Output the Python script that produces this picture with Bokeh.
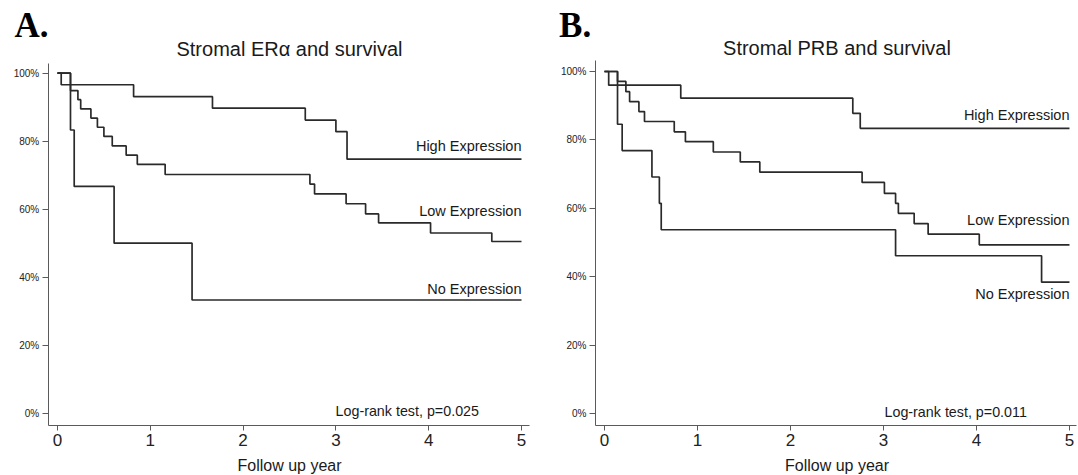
from bokeh.plotting import figure
from bokeh.layouts import row
from bokeh.models import Label, FixedTicker, NumeralTickFormatter, Range1d, LinearAxis
from bokeh.embed import file_html
from bokeh.resources import INLINE

# ---------------- data ----------------
series_names = ["High Expression", "Low Expression", "No Expression"]
x_ticks = [0, 1, 2, 3, 4, 5]
y_ticks = [0, 0.2, 0.4, 0.6, 0.8, 1.0]

# Panel A: Stromal ERa
a_high_t = [0, 0.04, 0.82, 1.67, 2.67, 3.00, 3.12, 5.0]
a_high_s = [1.0, 0.966, 0.931, 0.897, 0.862, 0.828, 0.747, 0.747]
a_low_t = [0, 0.14, 0.22, 0.25, 0.36, 0.43, 0.50, 0.59, 0.74, 0.86, 1.16,
           2.72, 2.77, 3.11, 3.32, 3.46, 4.02, 4.68, 5.0]
a_low_s = [1.0, 0.949, 0.922, 0.895, 0.868, 0.841, 0.814, 0.786, 0.759, 0.732, 0.702,
           0.674, 0.645, 0.616, 0.586, 0.560, 0.530, 0.505, 0.505]
a_no_t = [0, 0.14, 0.18, 0.61, 1.45, 5.0]
a_no_s = [1.0, 0.833, 0.667, 0.5, 0.333, 0.333]

# Panel B: Stromal PRB
b_high_t = [0, 0.045, 0.82, 2.67, 2.75, 5.0]
b_high_s = [1.0, 0.96, 0.922, 0.878, 0.834, 0.834]
b_low_t = [0, 0.14, 0.23, 0.27, 0.37, 0.43, 0.75, 0.87, 1.17, 1.46, 1.67,
           2.77, 3.01, 3.13, 3.16, 3.33, 3.48, 4.03, 5.0]
b_low_s = [1.0, 0.971, 0.941, 0.912, 0.883, 0.854, 0.824, 0.795, 0.765, 0.736, 0.706,
           0.676, 0.644, 0.615, 0.586, 0.556, 0.525, 0.494, 0.494]
b_no_t = [0, 0.14, 0.19, 0.51, 0.59, 0.61, 3.13, 4.70, 5.0]
b_no_s = [1.0, 0.846, 0.769, 0.692, 0.615, 0.538, 0.462, 0.385, 0.385]

titles = ["Stromal ER\u03b1 and survival", "Stromal PRB and survival"]
letters = ["A.", "B."]
pvals = ["Log-rank test, p=0.025", "Log-rank test, p=0.011"]
x_title = "Follow up year"

SANS = "Liberation Sans"
LINE = "#2a2a2a"
AX = "#5a5a5a"
TXT = "#1a1a1a"


def make_panel(xr, yr, x_bounds, y_bounds, curves, letter, title, pval,
               letter_pos, title_y, label_ys, pval_y, xtitle_y):
    p = figure(width=539, height=475, x_range=Range1d(*xr), y_range=Range1d(*yr),
               output_backend="svg", toolbar_location=None,
               x_axis_location=None, y_axis_location=None,
               min_border=0, min_border_left=0, min_border_right=0,
               min_border_top=0, min_border_bottom=0)
    p.outline_line_color = None
    p.grid.visible = False
    p.background_fill_color = "white"
    p.border_fill_color = "white"

    for (t, s) in curves:
        p.step(t, s, mode="after", line_color=LINE, line_width=1.7)

    xa = LinearAxis(fixed_location=y_bounds[0], bounds=x_bounds,
                    ticker=FixedTicker(ticks=x_ticks))
    ya = LinearAxis(fixed_location=x_bounds[0], bounds=y_bounds,
                    ticker=FixedTicker(ticks=y_ticks),
                    formatter=NumeralTickFormatter(format="0%"))
    for ax in (xa, ya):
        ax.axis_line_color = AX
        ax.major_tick_line_color = AX
        ax.minor_tick_line_color = None
        ax.major_tick_in = 0
        ax.major_label_text_font = SANS
        ax.major_label_text_color = "#222222"
    xa.major_tick_out = 5
    xa.major_label_standoff = 4
    xa.major_label_text_font_size = "17px"
    ya.major_tick_out = 6
    ya.major_label_standoff = 3
    ya.major_label_text_font_size = "10px"
    p.add_layout(xa, "below")
    p.add_layout(ya, "left")

    p.add_layout(Label(x=letter_pos[0], y=letter_pos[1], text=letter,
                       text_font="Liberation Serif", text_font_style="bold",
                       text_font_size="35px", text_color="black",
                       text_baseline="middle", text_align="left"))
    p.add_layout(Label(x=2.5, y=title_y, text=title, text_font=SANS,
                       text_font_size="20px", text_color=TXT,
                       text_baseline="middle", text_align="center"))
    for name, ly in zip(series_names, label_ys):
        p.add_layout(Label(x=5.0, y=ly, text=name, text_font=SANS,
                           text_font_size="14.5px", text_color=TXT,
                           text_baseline="middle", text_align="right"))
    p.add_layout(Label(x=4.542, y=pval_y, text=pval, text_font=SANS,
                       text_font_size="14.3px", text_color=TXT,
                       text_baseline="middle", text_align="right"))
    p.add_layout(Label(x=2.5, y=xtitle_y, text=x_title, text_font=SANS,
                       text_font_size="16px", text_color=TXT,
                       text_baseline="middle", text_align="center"))
    return p


pA = make_panel((-0.6142, 5.194), (-0.1832, 1.2138), (-0.10, 5.085), (-0.036, 1.0285),
                [(a_high_t, a_high_s), (a_low_t, a_low_s), (a_no_t, a_no_s)],
                letters[0], titles[0], pvals[0],
                (-0.463, 1.1394), 1.0718, [0.7865, 0.5947, 0.3644], 0.0079, -0.1538)

pB = make_panel((-0.699, 5.097), (-0.1796, 1.2073), (-0.097, 5.075), (-0.0336, 1.032),
                [(b_high_t, b_high_s), (b_low_t, b_low_s), (b_no_t, b_no_s)],
                letters[1], titles[1], pvals[1],
                (-0.488, 1.1343), 1.0686, [0.872, 0.565, 0.3518], 0.007, -0.1504)

layout = row(pA, pB)
open("out.html", "w").write(file_html(layout, INLINE))
